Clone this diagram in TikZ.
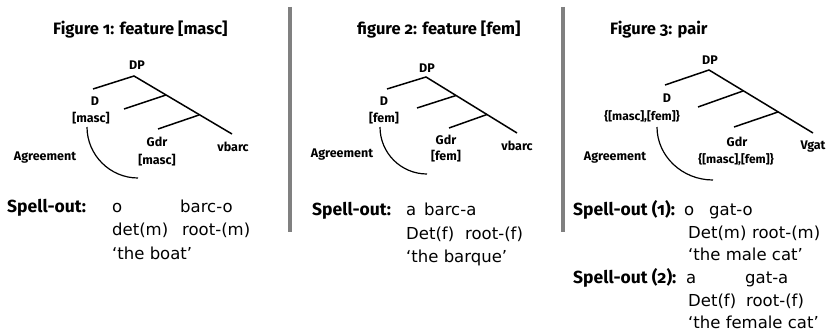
\documentclass[tikz,border=0pt]{standalone}
\usepackage{fontspec}
\setmainfont{Fira Sans}[Numbers=OldStyle]
\newfontfamily\bodyfont{DejaVu Sans}
\definecolor{sepgray}{RGB}{128,128,128}
\begin{document}
\begin{tikzpicture}[x=1pt,y=-1pt,
  lbl/.style={font=\bfseries\fontsize{12.5}{13}\selectfont, inner sep=0pt, align=center},
  fset/.style={lbl, font=\bfseries\fontsize{12}{13}\selectfont},
  ttl/.style={font=\bfseries\fontsize{16.5}{18}\selectfont, anchor=base west, inner sep=0pt},
  sob/.style={font=\bfseries\fontsize{17.5}{19}\selectfont, anchor=base west, inner sep=0pt},
  sot/.style={font=\bodyfont\fontsize{16.5}{18}\selectfont, anchor=base west, inner sep=0pt},
  branch/.style={line width=1.5pt},
  agr/.style={line width=1.2pt},
  sepline/.style={line width=4pt, draw=sepgray}]
\useasboundingbox (0,0) rectangle (829,334);

% separators
\coordinate (s1a) at (290,7); \coordinate (s1b) at (290,232);
\coordinate (s2a) at (563,7); \coordinate (s2b) at (563,232);
\draw[sepline] (s1a) -- (s1b);
\draw[sepline] (s2a) -- (s2b);

% ---------- Figure 1
\node[ttl] (ti1) at (53,35) {Figure 1: feature [masc]};
\coordinate (a1) at (134,76);
\coordinate (a1d) at (93,89);
\coordinate (a1n1) at (166,95);
\coordinate (a1l1) at (124,109);
\coordinate (a1n2) at (199,115);
\coordinate (a1l2) at (158,129);
\coordinate (a1v) at (232,134);
\draw[branch] (a1d) -- (a1) -- (a1v);
\draw[branch] (a1n1) -- (a1l1);
\draw[branch] (a1n2) -- (a1l2);
\node[lbl] (dp1) at (137,65) {DP};
\node[lbl] (d1) at (95,101) {D};
\node[lbl] (d1f) at (91,118) {[masc]};
\node[lbl] (g1) at (157,142) {Gdr};
\node[lbl] (g1f) at (157,160) {[masc]};
\node[lbl] (v1) at (233,147) {vbarc};
\node[lbl] (ag1) at (45,158) {Agreement};
\coordinate (r1a) at (87,127);
\coordinate (r1b) at (138,178);
\draw[agr] (r1a) .. controls (87,155) and (110,178) .. (r1b);
\node[sob] (so1) at (7,212) {Spell-out:};
\node[sot] (w1a) at (112,212) {o};
\node[sot] (w1b) at (180,212) {barc-o};
\node[sot] (w1c) at (112,235) {det(m)};
\node[sot] (w1d) at (182,235) {root-(m)};
\node[sot] (w1e) at (112,259) {‘the boat’};

% ---------- Figure 2
\node[ttl] (ti2) at (357,35) {figure 2: feature [fem]};
\coordinate (a2) at (426,77);
\coordinate (a2d) at (387,89);
\coordinate (a2n1) at (456,95.5);
\coordinate (a2l1) at (417,108);
\coordinate (a2n2) at (487,114.5);
\coordinate (a2l2) at (449,128);
\coordinate (a2v) at (517,133);
\draw[branch] (a2d) -- (a2) -- (a2v);
\draw[branch] (a2n1) -- (a2l1);
\draw[branch] (a2n2) -- (a2l2);
\node[lbl] (dp2) at (427,68) {DP};
\node[lbl] (d2) at (384,101) {D};
\node[lbl] (d2f) at (384,118) {[fem]};
\node[lbl] (g2) at (446,140) {Gdr};
\node[lbl] (g2f) at (446,156) {[fem]};
\node[lbl] (v2) at (517,146) {vbarc};
\node[lbl] (ag2) at (342,155) {Agreement};
\coordinate (r2a) at (380,127);
\coordinate (r2b) at (427,174);
\draw[agr] (r2a) .. controls (380,153) and (401,174) .. (r2b);
\node[sob] (so2) at (312,215) {Spell-out:};
\node[sot] (w2a) at (406,215) {a};
\node[sot] (w2b) at (424,215) {barc-a};
\node[sot] (w2c) at (406,239) {Det(f)};
\node[sot] (w2d) at (465,239) {root-(f)};
\node[sot] (w2e) at (406,262) {‘the barque’};

% ---------- Figure 3
\node[ttl] (ti3) at (610,35) {Figure 3: pair};
\coordinate (a3) at (709,70);
\coordinate (a3d) at (665,85);
\coordinate (a3n1) at (743,91);
\coordinate (a3l1) at (698,107);
\coordinate (a3n2) at (778,112);
\coordinate (a3l2) at (734,127);
\coordinate (a3v) at (813,133);
\draw[branch] (a3d) -- (a3) -- (a3v);
\draw[branch] (a3n1) -- (a3l1);
\draw[branch] (a3n2) -- (a3l2);
\node[lbl] (dp3) at (710,60) {DP};
\node[lbl] (d3) at (667,98) {D};
\node[fset] (d3f) at (642,117) {\{[masc],[fem]\}};
\node[lbl] (g3) at (737,142) {Gdr};
\node[fset] (g3f) at (736,160) {\{[masc],[fem]\}};
\node[lbl] (v3) at (813,147) {Vgat};
\node[lbl] (ag3) at (615,158) {Agreement};
\coordinate (r3a) at (657,127);
\coordinate (r3b) at (713,180);
\draw[agr] (r3a) .. controls (657,156) and (682,180) .. (r3b);
\node[sob] (so3) at (573,215) {Spell-out (1):};
\node[sot] (w3a) at (684,215) {o};
\node[sot] (w3b) at (709,215) {gat-o};
\node[sot] (w3c) at (688,238) {Det(m)};
\node[sot] (w3d) at (752,238) {root-(m)};
\node[sot] (w3e) at (688,260) {‘the male cat’};
\node[sob] (so4) at (573,283) {Spell-out (2):};
\node[sot] (w4a) at (686,283) {a};
\node[sot] (w4b) at (745,283) {gat-a};
\node[sot] (w4c) at (688,306) {Det(f)};
\node[sot] (w4d) at (746,306) {root-(f)};
\node[sot] (w4e) at (688,328) {‘the female cat’};
\end{tikzpicture}
\end{document}
